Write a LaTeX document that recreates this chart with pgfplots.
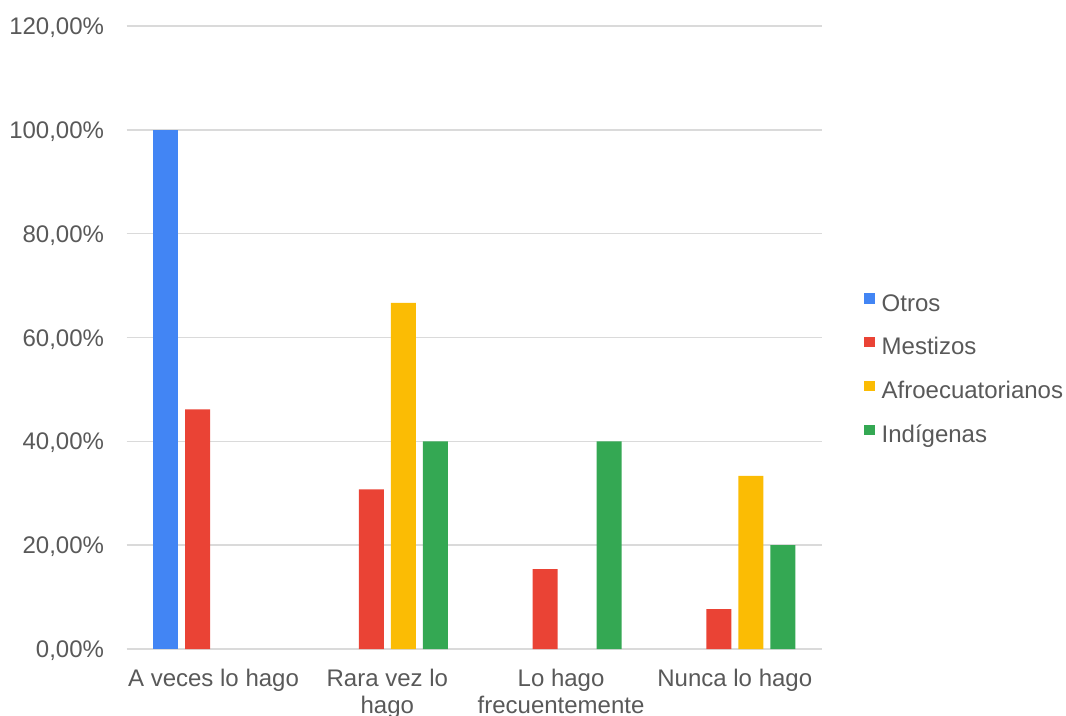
\documentclass[border=0pt]{standalone}
\usepackage{pgfplots}
\pgfplotsset{compat=1.18}
\usepackage{fontspec}
\setmainfont{Liberation Sans}
\definecolor{cblue}{HTML}{4285F4}
\definecolor{cred}{HTML}{EA4335}
\definecolor{cyellow}{HTML}{FBBC04}
\definecolor{cgreen}{HTML}{34A853}
\definecolor{txt}{HTML}{595959}
\definecolor{gridc}{HTML}{DADADA}
\begin{document}
\begin{tikzpicture}
\begin{axis}[
  at={(95pt,49.5pt)}, anchor=south west,
  scale only axis, width=521.25pt, height=467.25pt,
  xmin=-0.5, xmax=3.5, ymin=0, ymax=120,
  ybar=5.25pt, bar width=18.75pt,
  xtick={0,1,2,3},
  xticklabels={A veces lo hago,{Rara vez lo\\hago},{Lo hago\\frecuentemente},Nunca lo hago},
  xticklabel style={align=center, font=\fontsize{18}{20.25}\selectfont, text=txt, anchor=north, inner sep=0pt, yshift=-14.65pt},
  ytick={0,20,40,60,80,100,120},
  yticklabels={{0,00\%},{20,00\%},{40,00\%},{60,00\%},{80,00\%},{100,00\%},{120,00\%}},
  yticklabel style={font=\fontsize{18}{21}\selectfont, text=txt, anchor=east, inner sep=0pt, text height=12.9pt, text depth=0pt, xshift=-16.8pt},
  ymajorgrids, grid style={gridc, line width=1.2pt},
  axis line style={draw=none}, major tick length=0pt, tick style={draw=none},
  legend style={at={(1,0.4527)}, anchor=west, xshift=31.75pt, yshift=-2.5pt, draw=none, fill=none, inner sep=0pt,
    font=\fontsize{18}{21}\selectfont, text=txt, row sep=16pt,
    nodes={inner sep=0pt, text height=13pt, text depth=3.5pt},
    /tikz/every odd column/.append style={column sep=5.25pt}},
  legend cell align=left,
  sq/.style={legend image code/.code={\fill[##1] (0pt,0.9pt) rectangle (7.8pt,8.7pt);}},
]
% zero values (Otros: 0 in groups 2-4; Afroecuatorianos and Indígenas: 0 in group 1, Afro 0 in group 3) are not drawn
\addplot[fill=cblue, draw=none, sq] coordinates {(0,100)};
\addplot[fill=cred, draw=none, sq] coordinates {(0,46.15) (1,30.77) (2,15.38) (3,7.69)};
\addplot[fill=cyellow, draw=none, sq] coordinates {(1,66.67) (3,33.33)};
\addplot[fill=cgreen, draw=none, sq] coordinates {(1,40) (2,40) (3,20)};
\legend{Otros,Mestizos,Afroecuatorianos,Indígenas}
\end{axis}
\pgfresetboundingbox
\useasboundingbox (0,0) rectangle (799.5pt,536.25pt);
\end{tikzpicture}
\end{document}
